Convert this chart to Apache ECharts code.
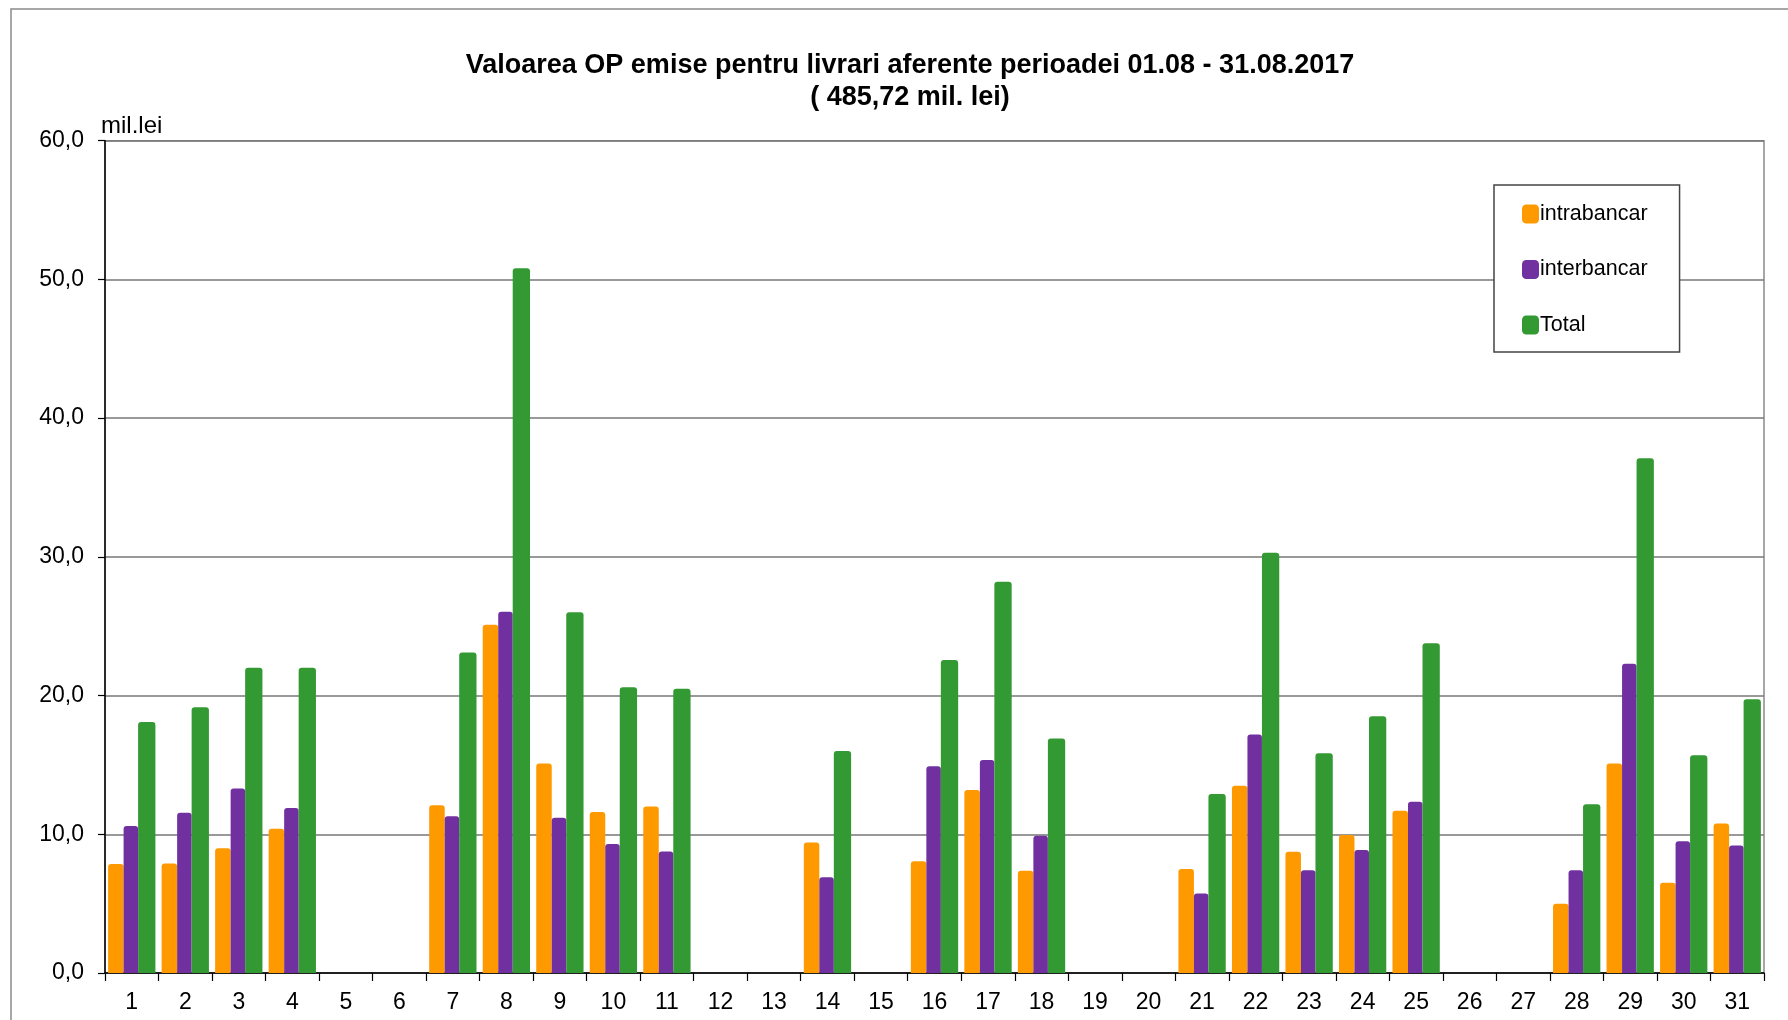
<!DOCTYPE html>
<html>
<head>
<meta charset="utf-8">
<script src="https://cdn.jsdelivr.net/npm/echarts@6/dist/echarts.min.js"></script>
<style>
html,body{margin:0;padding:0;background:#fff;}
#chart{width:1788px;height:1020px;}
</style>
</head>
<body>
<div id="chart"></div>
<script>
const days = ['1','2','3','4','5','6','7','8','9','10','11','12','13','14','15','16','17','18','19','20','21','22','23','24','25','26','27','28','29','30','31'];
const intrabancar = [7.85,7.9,9.0,10.4,null,null,12.1,25.1,15.1,11.6,12.0,null,null,9.4,null,8.05,13.2,7.37,null,null,7.5,13.5,8.74,9.95,11.7,null,null,5.0,15.1,6.5,10.77];
const interbancar = [10.6,11.55,13.3,11.9,null,null,11.3,26.05,11.2,9.3,8.75,null,null,6.9,null,14.9,15.35,9.9,null,null,5.74,17.2,7.4,8.86,12.34,null,null,7.4,22.3,9.49,9.2];
const total = [18.1,19.15,22.0,22.0,null,null,23.1,50.8,26.0,20.6,20.5,null,null,16.0,null,22.57,28.2,16.9,null,null,12.9,30.3,15.85,18.5,23.77,null,null,12.17,37.1,15.7,19.74];
const yTickLabels = ['0,0','10,0','20,0','30,0','40,0','50,0','60,0'];
const seriesNames = ['intrabancar','interbancar','Total'];
const titleLine1 = 'Valoarea OP emise pentru livrari aferente perioadei 01.08 - 31.08.2017';
const titleLine2 = '( 485,72 mil. lei)';

const FONT = "'Liberation Sans', Arial, Helvetica, sans-serif";
const chart = echarts.init(document.getElementById('chart'));
const barStyle = (color) => ({ color: color, borderRadius: [3,3,0,0] });

chart.setOption({
  animation: false,
  backgroundColor: '#fff',
  textStyle: { fontFamily: FONT },
  graphic: [
    { type: 'rect', shape: { x: 11, y: 9, width: 2400, height: 2400 }, style: { fill: 'none', stroke: '#8a8a8a', lineWidth: 1.5 }, z: -10, silent: true },
    { type: 'text', x: 910, y: 66, style: { text: titleLine1, font: "bold 27px " + FONT, fill: '#000', textAlign: 'center', textVerticalAlign: 'middle' } },
    { type: 'text', x: 910, y: 98, style: { text: titleLine2, font: "bold 27px " + FONT, fill: '#000', textAlign: 'center', textVerticalAlign: 'middle' } }
  ],
  legend: {
    orient: 'vertical',
    left: 1494, top: 185,
    padding: [18, 32, 16, 28],
    itemGap: 33.5,
    itemWidth: 17, itemHeight: 19,
    icon: 'roundRect',
    backgroundColor: '#fff',
    borderColor: '#444', borderWidth: 1.5,
    textStyle: { fontSize: 21.5, color: '#000', fontFamily: FONT, padding: [0,0,0,-4] },
    data: seriesNames
  },
  grid: { left: 105, right: 24, top: 140.7, bottom: 47, show: true, borderColor: '#8a8a8a', borderWidth: 1.5, containLabel: false },
  xAxis: {
    type: 'category',
    data: days,
    axisLine: { lineStyle: { color: '#000', width: 1.5 } },
    axisTick: { show: true, length: 8, lineStyle: { color: '#000', width: 1.2 } },
    axisLabel: { fontSize: 23, color: '#000', margin: 18, interval: 0 },
    splitLine: { show: false }
  },
  yAxis: {
    type: 'value', min: 0, max: 60, interval: 10,
    name: 'mil.lei',
    nameLocation: 'end',
    nameGap: 2.5,
    nameTextStyle: { fontSize: 24, color: '#000', align: 'left', padding: [0,0,0,-4] },
    axisLine: { show: true, lineStyle: { color: '#000', width: 1.5 } },
    axisTick: { show: true, length: 7, lineStyle: { color: '#000', width: 1.2 } },
    axisLabel: { fontSize: 23, color: '#000', margin: 21, formatter: (v) => yTickLabels[Math.round(v / 10)] },
    splitLine: { show: true, lineStyle: { color: '#777', width: 1.5 } }
  },
  series: [
    { name: seriesNames[0], type: 'bar', data: intrabancar, barWidth: 15.5, barGap: '0%', itemStyle: barStyle('#FF9900') },
    { name: seriesNames[1], type: 'bar', data: interbancar, barWidth: 14.5, barGap: '0%', itemStyle: barStyle('#7030A0') },
    { name: seriesNames[2], type: 'bar', data: total, barWidth: 17.3, barGap: '0%', itemStyle: barStyle('#339933') }
  ]
});
</script>
</body>
</html>
